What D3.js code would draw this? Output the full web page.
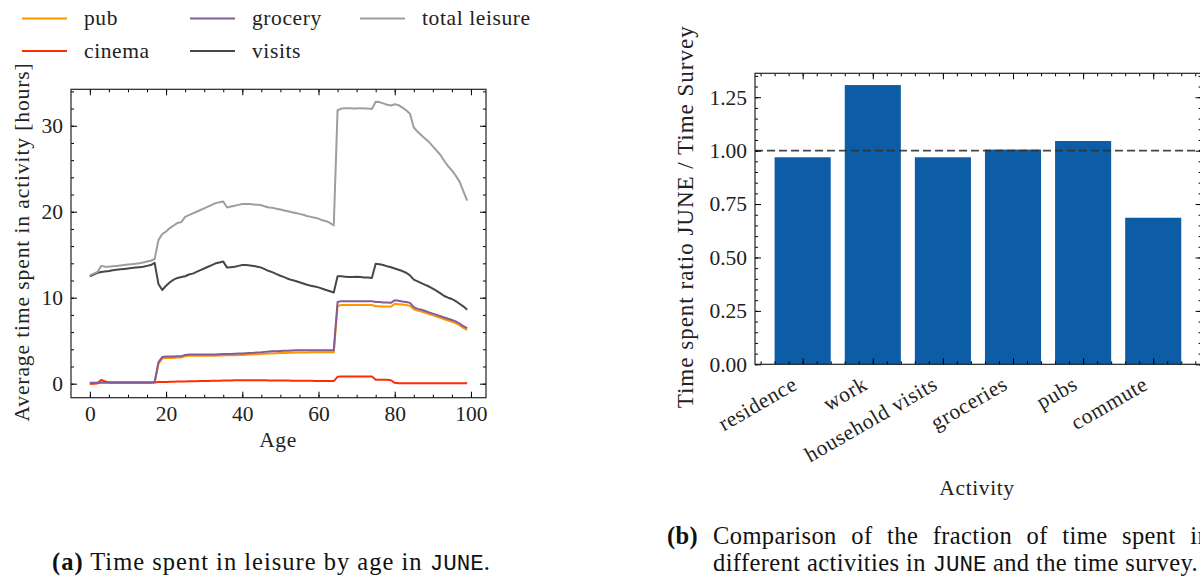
<!DOCTYPE html>
<html>
<head>
<meta charset="utf-8">
<script src="https://cdn.jsdelivr.net/npm/d3@7"></script>
<style>
  body { margin: 0; background: #fff; }
  svg { display: block; font-family: "Liberation Serif", "DejaVu Serif", serif; }
  .tick text { font-family: "Liberation Serif", serif; }
  .word { letter-spacing: 0.6px; }
</style>
</head>
<body>
<svg id="fig" width="1200" height="576"></svg>
<script>
// ---- left panel: leisure time by age ----
const ages = [0,1,2,3,4,5,6,7,8,9,10,11,12,13,14,15,16,17,18,19,20,21,22,23,24,25,26,27,28,29,30,31,32,33,34,35,36,37,38,39,40,41,42,43,44,45,46,47,48,49,50,51,52,53,54,55,56,57,58,59,60,61,62,63,64,65,66,67,68,69,70,71,72,73,74,75,76,77,78,79,80,81,82,83,84,85,86,87,88,89,90,91,92,93,94,95,96,97,98,99];

const pub = [0.05,0.05,0.05,0.1,0.1,0.1,0.1,0.1,0.1,0.1,0.1,0.1,0.1,0.1,0.1,0.1,0.1,0.15,
  2.3,2.95,3.0,3.0,3.0,3.05,3.05,
  3.2,3.25,3.25,3.25,3.25,3.25,3.25,3.25,3.25,3.27,3.28,
  3.3,3.3,3.32,3.33,3.35,3.37,3.39,3.41,3.43,3.45,3.48,3.5,3.52,3.54,
  3.56,3.58,3.6,3.6,3.62,3.62,3.64,3.64,3.65,3.65,3.65,3.65,3.65,3.65,3.65,
  9.05,9.15,9.15,9.15,9.15,9.15,9.15,9.15,9.15,9.15,
  9.0,9.0,8.98,8.98,8.95,
  9.3,9.25,9.2,9.15,9.05,8.65,8.5,8.4,8.25,8.1,7.95,7.8,7.65,7.5,7.35,7.2,7.05,6.8,6.5,6.25];

const cinema = [0.0,0.0,0.05,0.45,0.25,0.15,0.15,0.15,0.15,0.15,0.15,0.15,0.15,0.15,0.15,0.15,0.15,0.15,
  0.2,0.2,0.2,0.22,0.22,0.24,0.25,
  0.26,0.27,0.28,0.29,0.3,0.31,0.32,0.33,0.34,0.35,0.36,
  0.37,0.38,0.39,0.4,0.4,0.4,0.4,0.4,0.4,0.39,0.39,0.38,0.38,0.37,
  0.37,0.36,0.36,0.35,0.35,0.34,0.34,0.33,0.33,0.32,0.32,0.31,0.31,0.3,0.3,
  0.8,0.85,0.85,0.85,0.85,0.85,0.85,0.85,0.85,0.85,
  0.45,0.45,0.45,0.45,0.4,
  0.1,0.05,0.05,0.05,0.05,0.05,0.05,0.05,0.05,0.05,0.05,0.05,0.05,0.05,0.05,0.05,0.05,0.05,0.05,0.05];

const grocery = [0.1,0.1,0.1,0.15,0.15,0.15,0.15,0.15,0.15,0.15,0.15,0.15,0.15,0.15,0.15,0.15,0.15,0.2,
  2.5,3.1,3.15,3.15,3.15,3.2,3.2,
  3.35,3.4,3.4,3.4,3.4,3.4,3.4,3.4,3.4,3.42,3.44,
  3.45,3.46,3.48,3.5,3.52,3.55,3.58,3.6,3.63,3.66,3.7,3.73,3.76,3.78,
  3.8,3.82,3.84,3.86,3.88,3.9,3.9,3.9,3.9,3.9,3.9,3.9,3.9,3.9,3.9,
  9.5,9.6,9.6,9.6,9.6,9.6,9.6,9.6,9.6,9.6,
  9.5,9.5,9.45,9.45,9.4,
  9.7,9.65,9.55,9.5,9.4,8.9,8.7,8.6,8.45,8.3,8.15,8.0,7.85,7.7,7.55,7.4,7.25,7.0,6.7,6.45];

const visits = [12.5,12.7,12.9,13.0,13.05,13.1,13.2,13.25,13.3,13.35,13.4,13.45,13.5,13.55,13.6,13.7,13.8,14.05,
  11.6,10.9,11.4,11.8,12.1,12.3,12.4,
  12.5,12.7,12.8,13.0,13.2,13.4,13.6,13.8,14.0,14.1,14.2,
  13.5,13.55,13.6,13.7,13.8,13.8,13.75,13.7,13.6,13.5,13.3,13.1,12.95,12.75,
  12.55,12.4,12.2,12.05,11.95,11.8,11.65,11.5,11.4,11.3,11.2,11.05,10.9,10.75,10.6,
  12.5,12.5,12.45,12.4,12.4,12.45,12.4,12.35,12.35,12.3,
  13.95,13.9,13.8,13.65,13.55,
  13.4,13.25,13.1,12.9,12.6,12.1,11.9,11.7,11.5,11.3,11.05,10.8,10.5,10.2,10.0,9.85,9.6,9.3,9.0,8.6];

const totalLeisure = [12.6,12.8,13.0,13.7,13.6,13.6,13.65,13.7,13.75,13.8,13.85,13.9,13.95,14.0,14.1,14.2,14.3,14.5,
  16.7,17.4,17.7,18.1,18.4,18.7,18.8,
  19.4,19.6,19.8,20.0,20.2,20.4,20.6,20.8,21.0,21.1,21.2,
  20.5,20.6,20.7,20.8,20.9,20.9,20.9,20.85,20.8,20.75,20.6,20.5,20.45,20.35,
  20.25,20.15,20.05,19.95,19.85,19.75,19.65,19.5,19.4,19.3,19.2,19.0,18.9,18.7,18.4,
  31.8,32.0,32.05,32.05,32.0,32.0,32.05,32.0,32.0,31.95,
  32.8,32.75,32.6,32.45,32.35,
  32.5,32.4,32.1,31.8,31.4,29.8,29.3,28.9,28.5,28.1,27.6,27.1,26.6,25.9,25.3,24.8,24.2,23.5,22.4,21.3];

const seriesNames = ["pub", "cinema", "grocery", "visits", "total leisure"];
const seriesColors = ["#FF9500", "#FF2C00", "#845B97", "#474747", "#9e9e9e"];
const seriesValues = [pub, cinema, grocery, visits, totalLeisure];

// ---- right panel: ratio JUNE / time survey ----
const activities = ["residence", "work", "household visits", "groceries", "pubs", "commute"];
const ratios = [0.969, 1.307, 0.969, 1.005, 1.045, 0.686];
const ratioTicks = [0, 0.25, 0.5, 0.75, 1.0, 1.25];

const svg = d3.select("#fig");
svg.append("rect").attr("width", 1200).attr("height", 576).attr("fill", "#fff");

const fs = 21.5;

// draws a boxed axes with inward major/minor ticks on all sides
function drawFrame(g, x, y, o) {
  const [x0, x1] = x.range();
  const [y0, y1] = y.range();
  const major = 6, minor = 3;
  const sides = [
    {ax: d3.axisBottom, sc: x, tr: `translate(0,${y0})`, lab: true, maj: o.xMajor, min: o.xMinor, fmt: o.xFmt},
    {ax: d3.axisTop, sc: x, tr: `translate(0,${y1})`, lab: false, maj: o.xMajor, min: o.xMinor},
    {ax: d3.axisLeft, sc: y, tr: `translate(${x0},0)`, lab: true, maj: o.yMajor, min: o.yMinor, fmt: o.yFmt},
    {ax: d3.axisRight, sc: y, tr: `translate(${x1},0)`, lab: false, maj: o.yMajor, min: o.yMinor}
  ];
  sides.forEach(s => {
    g.append("g").attr("transform", s.tr)
      .call(s.ax(s.sc).tickValues(s.min).tickSize(-minor).tickFormat(""))
      .call(a => a.select(".domain").remove());
    const m = g.append("g").attr("transform", s.tr)
      .call(s.ax(s.sc).tickValues(s.maj).tickSize(-major).tickPadding(8)
        .tickFormat(s.lab ? s.fmt : ""));
    m.select(".domain").remove();
    m.selectAll("text").attr("font-size", fs).attr("fill", "#222");
  });
  g.append("rect")
    .attr("x", x0).attr("y", y1).attr("width", x1 - x0).attr("height", y0 - y1)
    .attr("fill", "none").attr("stroke", "#222").attr("stroke-width", 1.2);
}

// ---------- left panel ----------
const xL = d3.scaleLinear().domain([-4.95, 103.95]).range([71, 486]);
const yL = d3.scaleLinear().domain([-1.63, 34.24]).range([397.7, 89.3]);
const gL = svg.append("g");

const line = d3.line().x((d, i) => xL(ages[i])).y(d => yL(d));
seriesValues.forEach((vals, k) => {
  gL.append("path").datum(vals)
    .attr("fill", "none")
    .attr("stroke", seriesColors[k])
    .attr("stroke-width", 2)
    .attr("stroke-linejoin", "round")
    .attr("d", line);
});

drawFrame(gL, xL, yL, {
  xMajor: [0, 20, 40, 60, 80, 100],
  xMinor: d3.range(0, 105, 5),
  xFmt: d3.format("d"),
  yMajor: [0, 10, 20, 30],
  yMinor: d3.range(0, 35, 2),
  yFmt: d3.format("d")
});

gL.append("text").attr("class", "word").attr("x", 278).attr("y", 447).attr("text-anchor", "middle")
  .attr("font-size", fs).attr("fill", "#222").text("Age");
gL.append("text")
  .attr("transform", "translate(29,242) rotate(-90)")
  .attr("letter-spacing", 0.9)
  .attr("text-anchor", "middle").attr("font-size", fs).attr("fill", "#222")
  .text("Average time spent in activity [hours]");

// legend, 3 columns
const legendPos = [
  {x: 22, y: 18.5}, {x: 22, y: 51}, {x: 190, y: 18.5}, {x: 190, y: 51}, {x: 360, y: 18.5}
];
seriesNames.forEach((name, k) => {
  const p = legendPos[k];
  svg.append("line").attr("x1", p.x).attr("x2", p.x + 45)
    .attr("y1", p.y).attr("y2", p.y)
    .attr("stroke", seriesColors[k]).attr("stroke-width", 2);
  svg.append("text").attr("class", "word").attr("x", p.x + 62).attr("y", p.y + 6.5)
    .attr("font-size", fs).attr("fill", "#222").text(name);
});

// ---------- right panel ----------
const xR = d3.scaleLinear().domain([-0.68, 5.69]).range([755, 1201.6]);
const yR = d3.scaleLinear().domain([0, 1.362]).range([364.3, 73.3]);
const gR = svg.append("g");
const bw = 0.8;

gR.selectAll("rect.bar").data(ratios).join("rect")
  .attr("class", "bar")
  .attr("x", (d, i) => xR(i - bw / 2))
  .attr("width", xR(bw) - xR(0))
  .attr("y", d => yR(d))
  .attr("height", d => yR(0) - yR(d))
  .attr("fill", "#0C5DA5");

gR.append("line")
  .attr("x1", xR(-0.68)).attr("x2", xR(5.69))
  .attr("y1", yR(1)).attr("y2", yR(1))
  .attr("stroke", "#333").attr("stroke-width", 1.9).attr("opacity", 0.9)
  .attr("stroke-dasharray", "8,4");

drawFrame(gR, xR, yR, {
  xMajor: d3.range(activities.length),
  xMinor: d3.range(-3, 29).map(v => v / 5),
  xFmt: () => "",
  yMajor: ratioTicks,
  yMinor: d3.range(0, 28).map(v => v / 20),
  yFmt: d3.format(".2f")
});

// rotated category labels
gR.selectAll("text.cat").data(activities).join("text")
  .attr("class", "cat word")
  .attr("text-anchor", "end")
  .attr("font-size", fs).attr("fill", "#222")
  .attr("transform", (d, i) => `translate(${xR(i) - 4},${yR(0) + 24}) rotate(-30)`)
  .text(d => d);

gR.append("text").attr("class", "word").attr("x", 977).attr("y", 495).attr("text-anchor", "middle")
  .attr("font-size", fs).attr("fill", "#222").text("Activity");
gR.append("text")
  .attr("transform", `translate(693,${(yR(0) + yR(1.362)) / 2 - 2}) rotate(-90)`)
  .attr("letter-spacing", 1)
  .attr("text-anchor", "middle").attr("font-size", 23).attr("fill", "#222")
  .text("Time spent ratio JUNE / Time Survey");

// ---------- captions ----------
const mono = "'Liberation Mono', 'DejaVu Sans Mono', monospace";
const cfs = 24.5;
const capA = svg.append("text").attr("letter-spacing", 1).attr("x", 52).attr("y", 570)
  .attr("font-size", cfs).attr("fill", "#111");
capA.append("tspan").attr("font-weight", "bold").text("(a)");
capA.append("tspan").text(" Time spent in leisure by age in ");
capA.append("tspan").attr("font-family", mono).attr("font-size", cfs - 2).attr("letter-spacing", 0).text("JUNE");
capA.append("tspan").text(".");

const capB1 = svg.append("text").attr("letter-spacing", 0.4).attr("x", 667).attr("y", 544)
  .attr("font-size", cfs).attr("fill", "#111");
capB1.append("tspan").attr("font-weight", "bold").text("(b)");
capB1.append("tspan").attr("x", 713).attr("word-spacing", 8)
  .text("Comparison of the fraction of time spent in");

const capB2 = svg.append("text").attr("letter-spacing", 0.4).attr("x", 713).attr("y", 571)
  .attr("font-size", cfs).attr("fill", "#111");
capB2.append("tspan").text("different activities in ");
capB2.append("tspan").attr("font-family", mono).attr("font-size", cfs - 2).attr("letter-spacing", 0).text("JUNE");
capB2.append("tspan").text(" and the time survey.");
</script>
</body>
</html>
